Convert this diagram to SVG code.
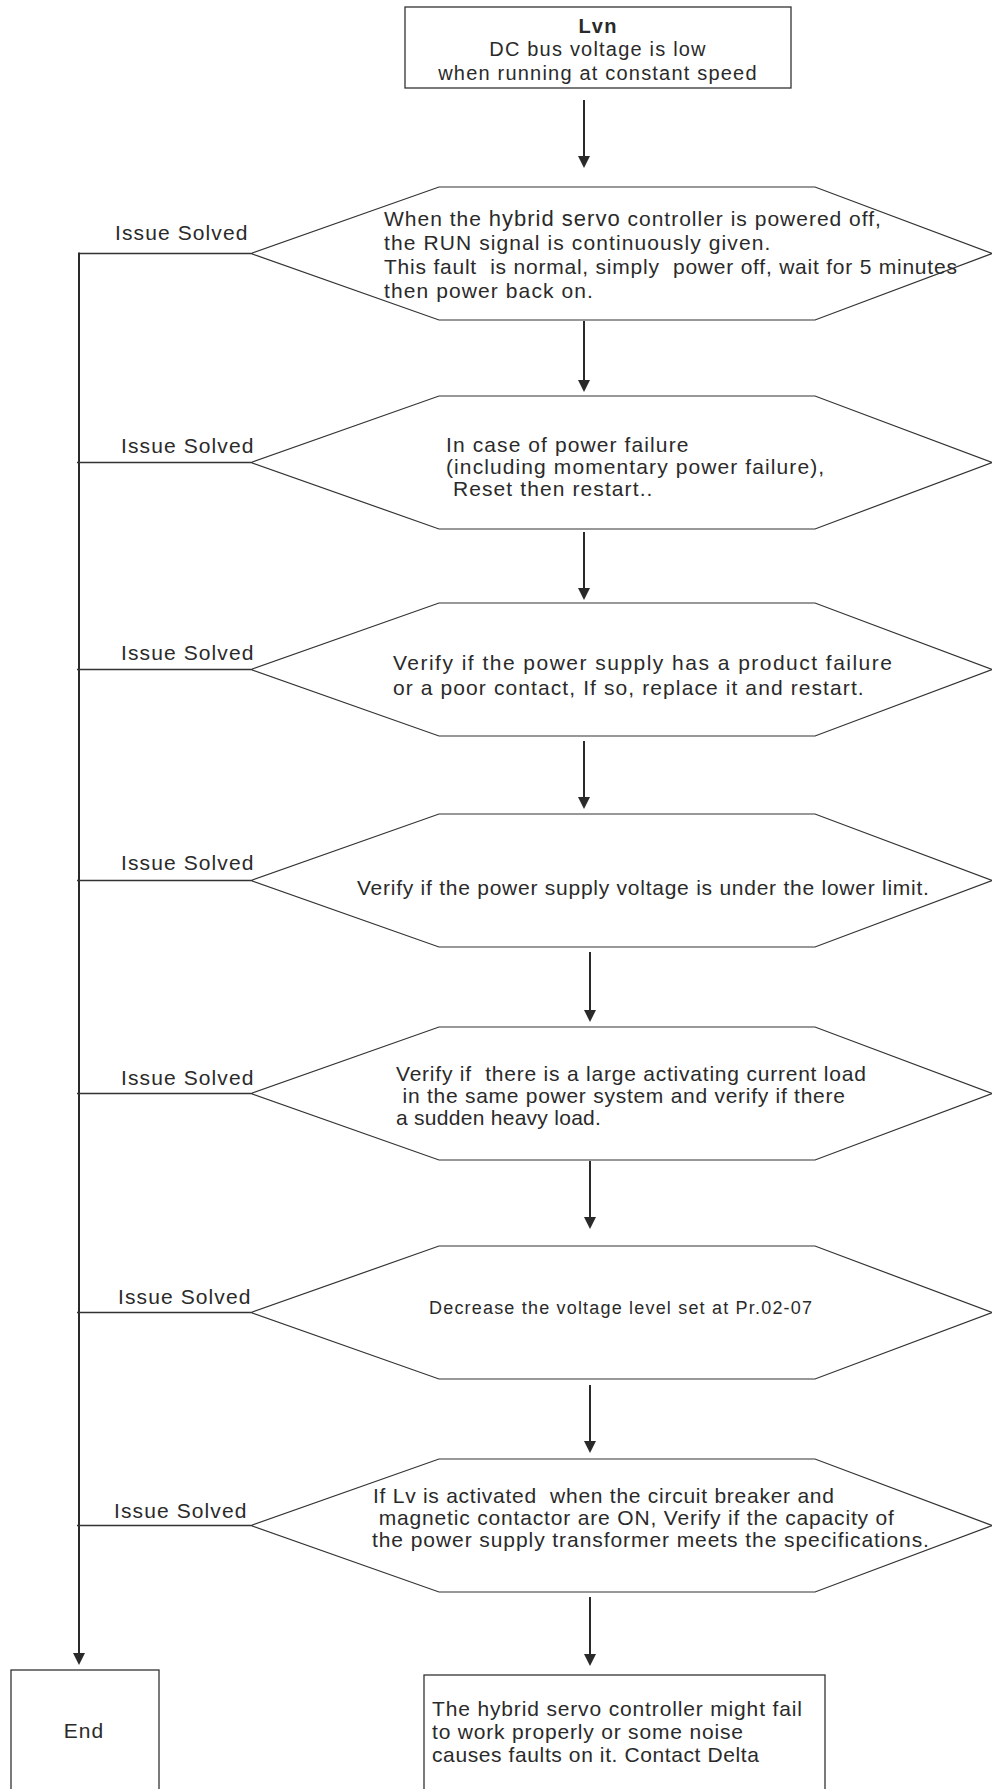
<svg xmlns="http://www.w3.org/2000/svg" width="992" height="1789" viewBox="0 0 992 1789" xml:space="preserve">
<style>
.box{fill:#fff;stroke:#333;stroke-width:1.3}
.hex{fill:#fff;stroke:#333;stroke-width:1.2}
.t{font-family:"Liberation Sans",Arial,sans-serif;font-size:21px;letter-spacing:1.1px;fill:#2a2a2a;white-space:pre}
.tb{font-family:"Liberation Sans",Arial,sans-serif;font-size:20px;letter-spacing:1.2px;fill:#2a2a2a;white-space:pre}
.ts{font-family:"Liberation Sans",Arial,sans-serif;font-size:18px;fill:#2a2a2a;white-space:pre}
.arr{stroke:#2a2a2a;stroke-width:2;fill:none}
.h{stroke:#333;stroke-width:1.3;fill:none}
</style>
<defs>
<marker id="ah" markerUnits="userSpaceOnUse" markerWidth="12" markerHeight="12" viewBox="0 0 12 12" refX="1" refY="6" orient="auto">
<path d="M0,0 L12,6 L0,12 z" fill="#2a2a2a"/>
</marker>
</defs>
<rect width="992" height="1789" fill="#fff"/>

<g id="connectors">
<line class="arr" x1="584" y1="100" x2="584" y2="157" marker-end="url(#ah)"/>
<line class="arr" x1="584" y1="321" x2="584" y2="381" marker-end="url(#ah)"/>
<line class="arr" x1="584" y1="532" x2="584" y2="589" marker-end="url(#ah)"/>
<line class="arr" x1="584" y1="741" x2="584" y2="798" marker-end="url(#ah)"/>
<line class="arr" x1="590" y1="952" x2="590" y2="1011" marker-end="url(#ah)"/>
<line class="arr" x1="590" y1="1161" x2="590" y2="1218" marker-end="url(#ah)"/>
<line class="arr" x1="590" y1="1385" x2="590" y2="1442" marker-end="url(#ah)"/>
<line class="arr" x1="590" y1="1597" x2="590" y2="1655" marker-end="url(#ah)"/>
<line class="arr" x1="79" y1="252.5" x2="79" y2="1654" marker-end="url(#ah)"/>
<line class="h" x1="79" y1="253.5" x2="251" y2="253.5"/>
<line class="h" x1="77" y1="462.5" x2="251" y2="462.5"/>
<line class="h" x1="77" y1="669.5" x2="251" y2="669.5"/>
<line class="h" x1="77" y1="880.5" x2="251" y2="880.5"/>
<line class="h" x1="77" y1="1093.5" x2="251" y2="1093.5"/>
<line class="h" x1="77" y1="1312.5" x2="251" y2="1312.5"/>
<line class="h" x1="77" y1="1525.5" x2="251" y2="1525.5"/>
<text class="t" x="115" y="240">Issue Solved</text>
<text class="t" x="121" y="453">Issue Solved</text>
<text class="t" x="121" y="660">Issue Solved</text>
<text class="t" x="121" y="870">Issue Solved</text>
<text class="t" x="121" y="1085">Issue Solved</text>
<text class="t" x="118" y="1304">Issue Solved</text>
<text class="t" x="114" y="1518">Issue Solved</text>
</g>

<g id="start">
<rect class="box" x="405" y="7" width="386" height="81"/>
<text class="tb" x="598" y="33" text-anchor="middle" font-weight="bold">Lvn</text>
<text class="tb" x="598" y="56" text-anchor="middle">DC bus voltage is low</text>
<text class="tb" x="598" y="80" text-anchor="middle">when running at constant speed</text>
</g>

<g id="step1">
<polygon class="hex" points="251,253.5 439,187 815,187 992,253.5 815,320 439,320"/>
<text class="t" x="384" y="226" textLength="498" lengthAdjust="spacing">When the <tspan font-size="22">hybrid servo</tspan> controller is powered off,</text>
<text class="t" x="384" y="250">the RUN signal is continuously given.</text>
<text class="t" x="384" y="274" textLength="574" lengthAdjust="spacing">This fault  is normal, simply  power off, wait for 5 minutes</text>
<text class="t" x="384" y="298">then power back on.</text>
</g>

<g id="step2">
<polygon class="hex" points="251,462.5 439,396 815,396 992,462.5 815,529 439,529"/>
<text class="t" x="446" y="452">In case of power failure</text>
<text class="t" x="446" y="474">(including momentary power failure),</text>
<text class="t" x="446" y="496"> Reset then restart..</text>
</g>

<g id="step3">
<polygon class="hex" points="251,669.5 439,603 815,603 992,669.5 815,736 439,736"/>
<text class="t" x="393" y="670" textLength="500" lengthAdjust="spacing">Verify if the power supply has a product failure</text>
<text class="t" x="393" y="695">or a poor contact, If so, replace it and restart.</text>
</g>

<g id="step4">
<polygon class="hex" points="251,880.5 439,814 815,814 992,880.5 815,947 439,947"/>
<text class="t" x="357" y="895" textLength="573" lengthAdjust="spacing">Verify if the power supply voltage is under the lower limit.</text>
</g>

<g id="step5">
<polygon class="hex" points="251,1093.5 439,1027 815,1027 992,1093.5 815,1160 439,1160"/>
<text class="t" x="396" y="1081" textLength="471" lengthAdjust="spacing">Verify if  there is a large activating current load</text>
<text class="t" x="396" y="1103" textLength="450" lengthAdjust="spacing"> in the same power system and verify if there</text>
<text class="t" x="396" y="1125" textLength="206" lengthAdjust="spacing">a sudden heavy load.</text>
</g>

<g id="step6">
<polygon class="hex" points="251,1312.5 439,1246 815,1246 992,1312.5 815,1379 439,1379"/>
<text class="ts" x="429" y="1314" textLength="383" lengthAdjust="spacing">Decrease the voltage level set at Pr.02-07</text>
</g>

<g id="step7">
<polygon class="hex" points="251,1525.5 439,1459 815,1459 992,1525.5 815,1592 439,1592"/>
<text class="t" x="373" y="1503" textLength="462" lengthAdjust="spacing">If Lv is activated  when the circuit breaker and</text>
<text class="t" x="372" y="1525" textLength="523" lengthAdjust="spacing"> magnetic contactor are ON, Verify if the capacity of</text>
<text class="t" x="372" y="1547" textLength="558" lengthAdjust="spacing">the power supply transformer meets the specifications.</text>
</g>

<g id="end">
<rect class="box" x="11" y="1670" width="148" height="140"/>
<text class="t" x="84" y="1738" text-anchor="middle">End</text>
</g>

<g id="contact">
<rect class="box" x="424" y="1675" width="401" height="140"/>
<text class="t" x="432" y="1716" textLength="371" lengthAdjust="spacing">The hybrid servo controller might fail</text>
<text class="t" x="432" y="1739" textLength="312" lengthAdjust="spacing">to work properly or some noise</text>
<text class="t" x="432" y="1762" textLength="328" lengthAdjust="spacing">causes faults on it. Contact Delta</text>
</g>
</svg>
